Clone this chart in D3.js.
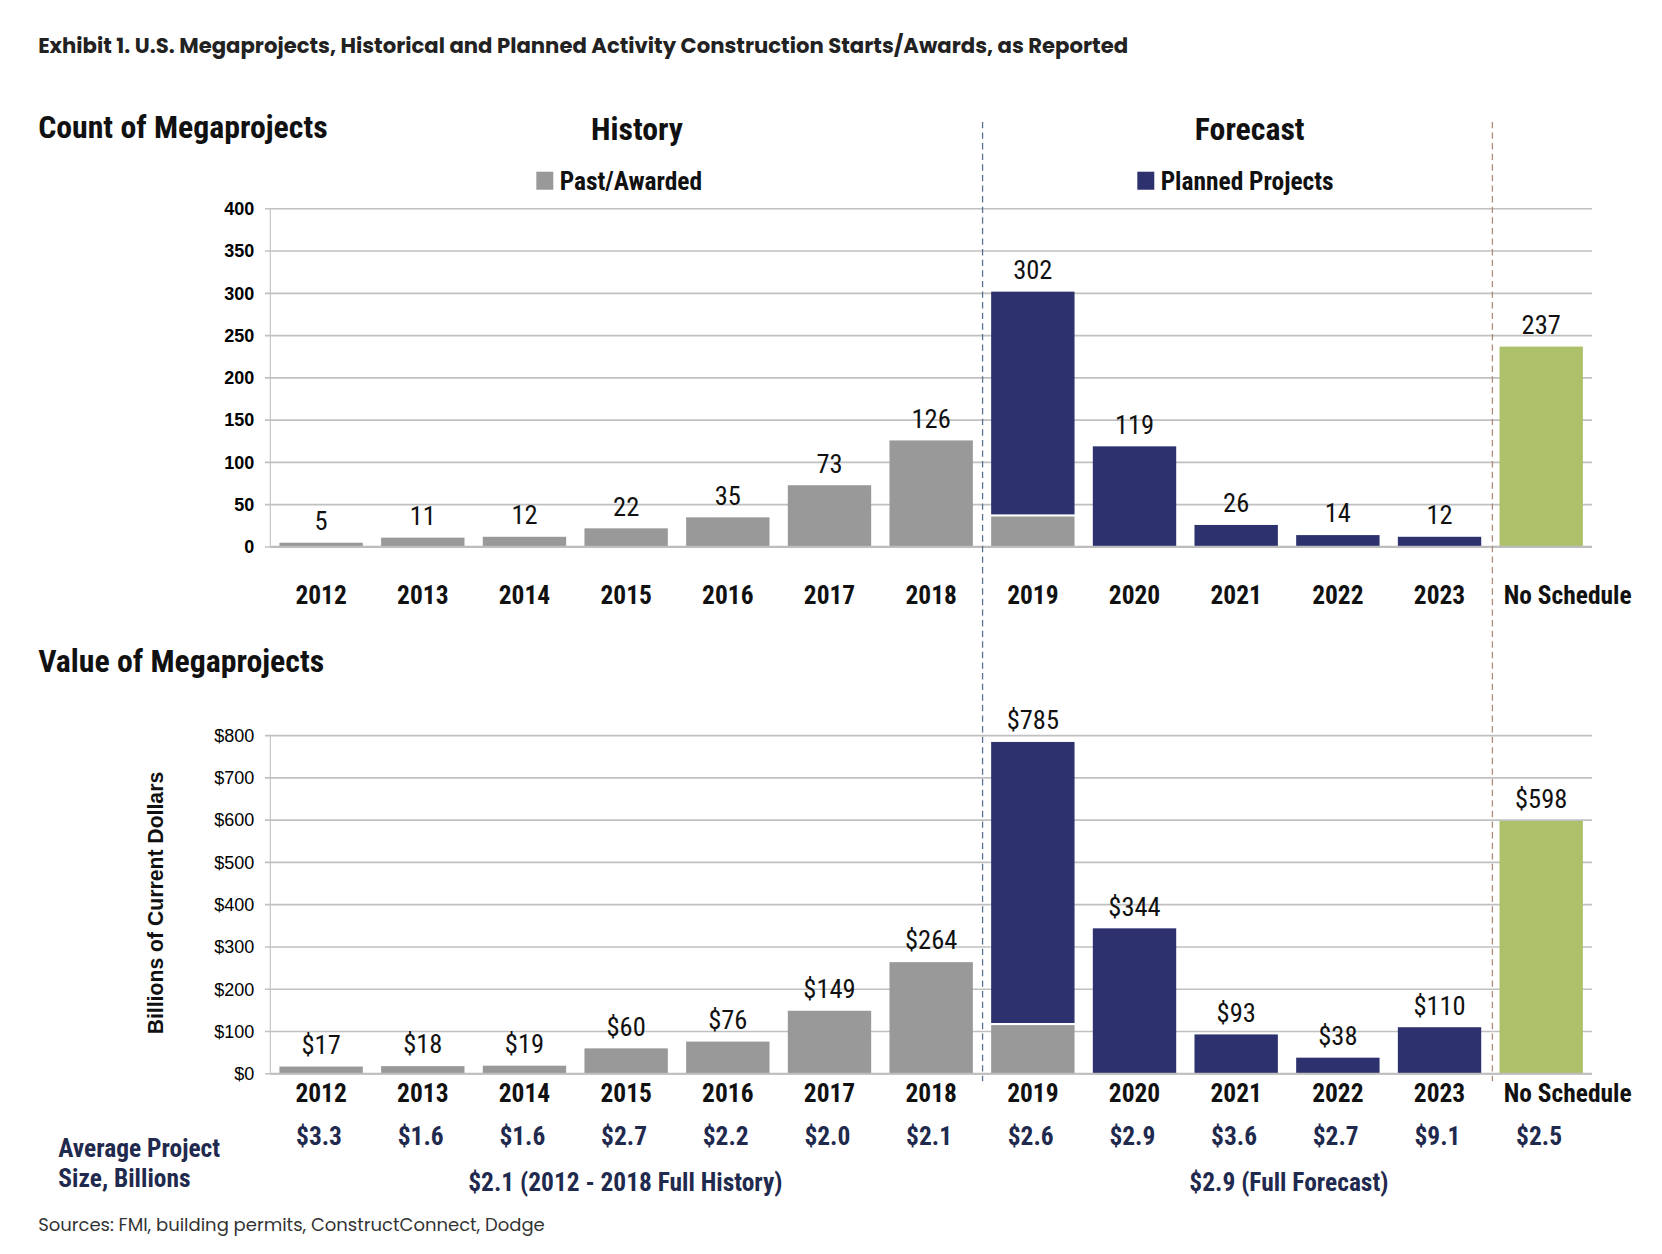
<!DOCTYPE html>
<html><head><meta charset="utf-8">
<script src="https://cdn.jsdelivr.net/npm/d3@7"></script>
<style>body{margin:0;background:#fff}</style></head>
<body><svg id="c" width="1662" height="1254"></svg>
<script>
const categories=["2012","2013","2014","2015","2016","2017","2018","2019","2020","2021","2022","2023","No Schedule"];
const countPast=[5,11,12,22,35,73,126,36,0,0,0,0,0];
const countPlanned=[0,0,0,0,0,0,0,266,119,26,14,12,0];
const countNoSched=[0,0,0,0,0,0,0,0,0,0,0,0,237];
const countLabels=["5","11","12","22","35","73","126","302","119","26","14","12","237"];
const valuePast=[17,18,19,60,76,149,264,115,0,0,0,0,0];
const valuePlanned=[0,0,0,0,0,0,0,670,344,93,38,110,0];
const valueNoSched=[0,0,0,0,0,0,0,0,0,0,0,0,598];
const valueLabels=["$17","$18","$19","$60","$76","$149","$264","$785","$344","$93","$38","$110","$598"];
const avgSize=["$3.3","$1.6","$1.6","$2.7","$2.2","$2.0","$2.1","$2.6","$2.9","$3.6","$2.7","$9.1","$2.5"];
const countTicks=[0,50,100,150,200,250,300,350,400];
const valueTicks=[0,100,200,300,400,500,600,700,800];

const svg=d3.select("#c").append("g").attr("transform","scale("+(1662/1568)+")");
const COND="'Liberation Sans Narrow','Roboto Condensed','Arial Narrow',Roboto,sans-serif";
const GRAY="#999999",NAVY="#2d316e",GREEN="#adc16a",DARK="#1f2a4e";
const x=d3.scaleBand().domain(categories).range([255,1502]).paddingInner(0.18).paddingOuter(0.09);

function panel(yTop,yBot,max,ticks,past,plan,nos,labels,fmt,tickFont){
  const y=d3.scaleLinear().domain([0,max]).range([yBot,yTop]);
  svg.append("g").selectAll("line").data(ticks).join("line")
    .attr("x1",250).attr("x2",1502).attr("y1",d=>y(d)).attr("y2",d=>y(d))
    .attr("stroke","#c0c0c0").attr("stroke-width",1.5);
  svg.append("line").attr("x1",255).attr("x2",255).attr("y1",yTop).attr("y2",yBot).attr("stroke","#c0c0c0");
  svg.append("g").selectAll("text").data(ticks).join("text")
    .attr("x",240).attr("y",d=>y(d)+6).attr("text-anchor","end")
    .attr("font-family","Liberation Sans,Arial,sans-serif").attr("font-size",17).attr("font-weight",tickFont)
    .text(fmt);
  const g=svg.append("g");
  const stack=categories.map((c,i)=>({c,p:past[i],q:plan[i],n:nos[i]}));
  g.selectAll(".p").data(stack).join("rect").attr("x",d=>x(d.c)).attr("width",x.bandwidth())
    .attr("y",d=>y(d.p)).attr("height",d=>yBot-y(d.p)).attr("fill",GRAY);
  g.selectAll(".q").data(stack).join("rect").attr("x",d=>x(d.c)).attr("width",x.bandwidth())
    .attr("y",d=>y(d.p+d.q)).attr("height",d=>d.q?y(d.p)-y(d.p+d.q)-(d.p?2:0):0).attr("fill",NAVY);
  g.selectAll(".n").data(stack).join("rect").attr("x",d=>x(d.c)).attr("width",x.bandwidth())
    .attr("y",d=>y(d.n)).attr("height",d=>yBot-y(d.n)).attr("fill",GREEN);
  g.selectAll("text").data(stack).join("text")
    .attr("x",d=>x(d.c)+x.bandwidth()/2).attr("y",d=>y(d.p+d.q+d.n)-12)
    .attr("text-anchor","middle").attr("font-family",COND).attr("font-size",25).attr("fill","#111")
    .text((d,i)=>labels[i]);
  svg.append("line").attr("x1",255).attr("x2",1502).attr("y1",yBot).attr("y2",yBot).attr("stroke","#bdbdbd").attr("stroke-width",2);
}
panel(197,516,400,countTicks,countPast,countPlanned,countNoSched,countLabels,d=>d,"bold");
panel(694,1013,800,valueTicks,valuePast,valuePlanned,valueNoSched,valueLabels,d=>"$"+d,"normal");

[570,1040].forEach(yy=>{
  svg.append("g").selectAll("text").data(categories).join("text")
   .attr("x",d=>x(d)+x.bandwidth()/2+(d==="No Schedule"?25:0)).attr("y",yy).attr("text-anchor","middle")
   .attr("font-family",COND).attr("font-weight","bold").attr("font-size",24).attr("fill","#111").text(d=>d);
});
svg.append("g").selectAll("text").data(avgSize).join("text")
  .attr("x",(d,i)=>x(categories[i])+x.bandwidth()/2-2).attr("y",1080).attr("text-anchor","middle")
  .attr("font-family",COND).attr("font-weight","bold").attr("font-size",24).attr("fill",DARK).text(d=>d);

svg.append("line").attr("x1",927).attr("x2",927).attr("y1",115).attr("y2",1020).attr("stroke","#5a7090").attr("stroke-dasharray","6,4").attr("stroke-width",1.2);
svg.append("line").attr("x1",1408).attr("x2",1408).attr("y1",115).attr("y2",1020).attr("stroke","#b08a78").attr("stroke-dasharray","6,4").attr("stroke-width",1.2);

function t(x0,y0,s,size,weight,fill,anchor,fam){svg.append("text").attr("x",x0).attr("y",y0).attr("font-size",size)
  .attr("font-weight",weight).attr("fill",fill).attr("text-anchor",anchor||"start").attr("font-family",fam||COND).text(s);}
t(36,50,"Exhibit 1. U.S. Megaprojects, Historical and Planned Activity Construction Starts/Awards, as Reported",20,"bold","#222","start","Poppins,'Noto Sans',sans-serif");
t(36,130,"Count of Megaprojects",30,"bold","#111");
t(36,634,"Value of Megaprojects",30,"bold","#111");
t(601,132,"History",30,"bold","#111","middle");
t(1179,132,"Forecast",30,"bold","#111","middle");
svg.append("rect").attr("x",506).attr("y",162).attr("width",16).attr("height",17).attr("fill",GRAY);
t(528,179,"Past/Awarded",24,"bold","#111");
svg.append("rect").attr("x",1073).attr("y",162).attr("width",16).attr("height",17).attr("fill",NAVY);
t(1095,179,"Planned Projects",24,"bold","#111");
svg.append("text").attr("transform","translate(154,852) rotate(-90)").attr("text-anchor","middle")
  .attr("font-family","Liberation Sans,Arial,sans-serif").attr("font-weight","bold").attr("font-size",20).attr("fill","#111")
  .text("Billions of Current Dollars");
t(55,1092,"Average Project",24,"bold",DARK);
t(55,1120,"Size, Billions",24,"bold",DARK);
t(590,1124,"$2.1 (2012 - 2018 Full History)",24,"bold",DARK,"middle");
t(1216,1124,"$2.9 (Full Forecast)",24,"bold",DARK,"middle");
t(36,1161,"Sources: FMI, building permits, ConstructConnect, Dodge",17,"normal","#333","start","Poppins,'Noto Sans',sans-serif");
</script></body></html>
